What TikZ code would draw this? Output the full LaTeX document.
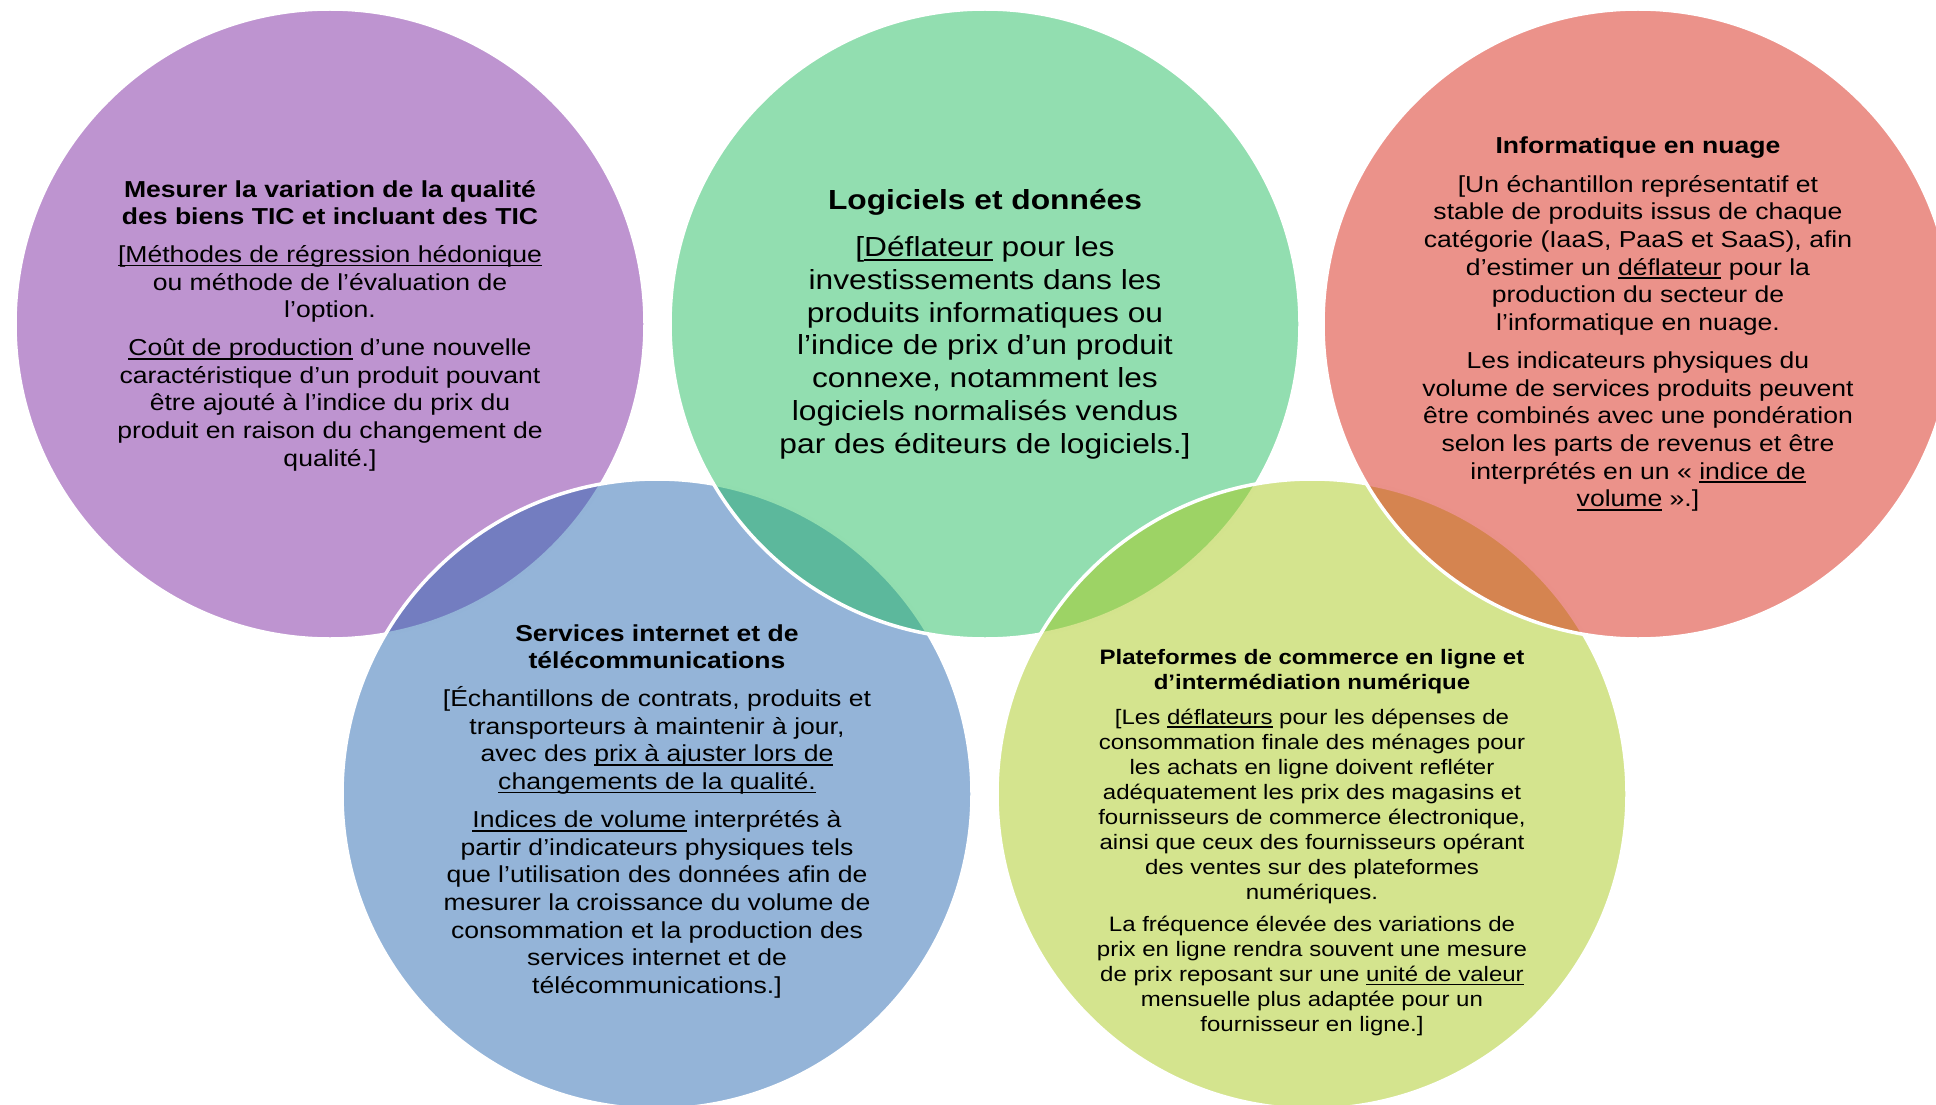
\documentclass[tikz,border=0pt]{standalone}
\usepackage{fontspec}
\newfontfamily\arialx{Liberation Sans}[FakeStretch=1.15]
\definecolor{cQual}{RGB}{125,41,161}
\definecolor{cTel}{RGB}{41,105,177}
\definecolor{cLog}{RGB}{37,189,97}
\definecolor{cPlat}{RGB}{169,201,29}
\definecolor{cNua}{RGB}{215,37,21}
\newcommand\undl[1]{\leavevmode\setbox0\hbox{#1}\rlap{\rule[-0.17em]{\wd0}{0.075em}}\box0\relax}
\newcommand\fmid{\arialx\fontsize{23.1}{27.6}\selectfont}
\newcommand\fbig{\arialx\fontsize{27.6}{32.8}\selectfont}
\newcommand\fsmall{\arialx\fontsize{20.9}{25}\selectfont}

\begin{document}
\begin{tikzpicture}[x = 1pt, y = -1pt,
    venn/.style = {circle, draw = white, line width = 3.5pt, fill opacity = 0.5, minimum size = 630pt, inner sep = 0pt},
    txt/.style = {align = center, inner sep = 0pt, anchor = base, text = black}]
    \useasboundingbox (0,0) rectangle (1936,1105);
    \clip (0,0) rectangle (1936,1105);
    \node[venn, fill = cQual] (Q) at (330,324) {};
    \node[venn, fill = cTel] (T) at (657,794) {};
    \node[venn, fill = cLog] (L) at (985,324) {};
    \node[venn, fill = cPlat] (P) at (1312,794) {};
    \node[venn, fill = cNua] (N) at (1638,324) {};
    \node[txt, font = \fmid] (TQ) at ([yshift = -142pt] Q.center) {\textbf{Mesurer la variation de la qualité}\\
        \textbf{des biens TIC et incluant des TIC}\\[10.3pt]
        \undl{[Méthodes de régression hédonique}\\
        ou méthode de l’évaluation de\\
        l’option.\\[10.3pt]
        \undl{Coût de production} d’une nouvelle\\
        caractéristique d’un produit pouvant\\
        être ajouté à l’indice du prix du\\
        produit en raison du changement de\\
        qualité.]};
    \node[txt, font = \fbig] (TL) at ([yshift = -129.3pt] L.center) {\textbf{Logiciels et données}\\[13.9pt]
        {[}\undl{Déflateur} pour les\\
        investissements dans les\\
        produits informatiques ou\\
        l’indice de prix d’un produit\\
        connexe, notamment les\\
        logiciels normalisés vendus\\
        par des éditeurs de logiciels.]};
    \node[txt, font = \fmid] (TN) at ([yshift = -182.7pt] N.center) {\textbf{Informatique en nuage}\\[11.5pt]
        {[}Un échantillon représentatif et\\
        stable de produits issus de chaque\\
        catégorie (IaaS, PaaS et SaaS), afin\\
        d’estimer un \undl{déflateur} pour la\\
        production du secteur de\\
        l’informatique en nuage.\\[10.8pt]
        Les indicateurs physiques du\\
        volume de services produits peuvent\\
        être combinés avec une pondération\\
        selon les parts de revenus et être\\
        interprétés en un « \undl{indice de}\\
        \undl{volume} ».]};
    \node[txt, font = \fmid] (TT) at ([yshift = -199.3pt] T.center) {\textbf{Services internet et de}\\
        \textbf{télécommunications}\\[10pt]
        {[}Échantillons de contrats, produits et\\
        transporteurs à maintenir à jour,\\
        avec des \undl{prix à ajuster lors de}\\
        \undl{changements de la qualité.}\\[10.8pt]
        \undl{Indices de volume} interprétés à\\
        partir d’indicateurs physiques tels\\
        que l’utilisation des données afin de\\
        mesurer la croissance du volume de\\
        consommation et la production des\\
        services internet et de\\
        télécommunications.]};
    \node[txt, font = \fsmall] (TP) at ([yshift = -237.7pt] P.center) {\textbf{Plateformes de commerce en ligne et}\\
        \textbf{d’intermédiation numérique}\\[10pt]
        {[}Les \undl{déflateurs} pour les dépenses de\\
        consommation finale des ménages pour\\
        les achats en ligne doivent refléter\\
        adéquatement les prix des magasins et\\
        fournisseurs de commerce électronique,\\
        ainsi que ceux des fournisseurs opérant\\
        des ventes sur des plateformes\\
        numériques.\\[7.4pt]
        La fréquence élevée des variations de\\
        prix en ligne rendra souvent une mesure\\
        de prix reposant sur une \undl{unité de valeur}\\
        mensuelle plus adaptée pour un\\
        fournisseur en ligne.]};
\end{tikzpicture}
\end{document}
